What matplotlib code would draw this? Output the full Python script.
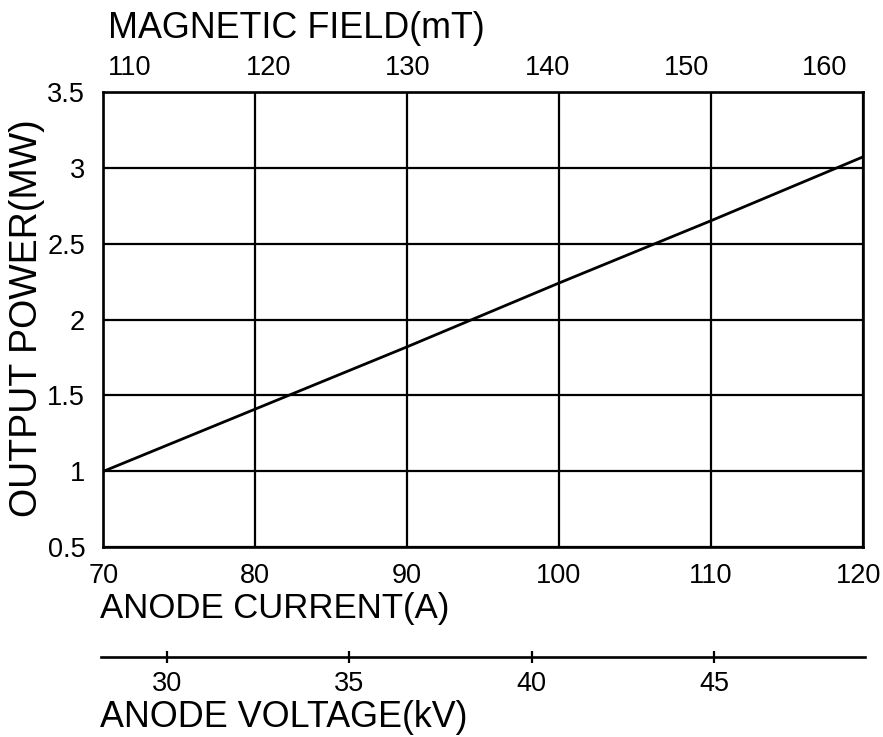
import numpy as np
import matplotlib
matplotlib.use('Agg')
import matplotlib.pyplot as plt
import matplotlib.transforms as mtransforms

plt.rcParams['font.family'] = ['Liberation Sans', 'DejaVu Sans']

# DATOS
corriente = [70, 80, 90, 100, 110, 120]          # A
potencia = [1.00, 1.41, 1.82, 2.24, 2.65, 3.07]  # MW

campo_ticks = [110, 120, 130, 140, 150, 160]     # mT
campo_lim = (108.08, 162.71)
voltaje_ticks = [30, 35, 40, 45]                 # kV
voltaje_lim = (28.19, 49.14)

y_ticks = [0.5, 1, 1.5, 2, 2.5, 3, 3.5]
y_labels = ['0.5', '1', '1.5', '2', '2.5', '3', '3.5']

W, H = 883, 737
fig = plt.figure(figsize=(W/100, H/100), dpi=100)

# eje principal
ax = fig.add_axes([103.3/W, 1-547.3/H, (862.7-103.3)/W, (547.3-91.7)/H])
ax.plot(corriente, potencia, color='black', lw=2.0)
ax.set_xlim(70, 120)
ax.set_ylim(0.5, 3.5)
ax.set_xticks(corriente)
ax.set_yticks(y_ticks)
ax.set_yticklabels(y_labels)
ax.grid(True, color='black', lw=1.6)
for s in ax.spines.values():
    s.set_linewidth(1.9)
ax.tick_params(axis='both', length=0, labelsize=19.5)
ax.tick_params(axis='x', pad=11)
ax.tick_params(axis='y', pad=13)

# el ultimo rotulo (120) queda pegado al borde, se corre un poco
ult = ax.get_xticklabels()[-1]
ult.set_transform(ult.get_transform() +
                  mtransforms.ScaledTranslation(-3/72, 0, fig.dpi_scale_trans))

# eje superior: campo magnetico
axt = ax.twiny()
axt.set_xlim(*campo_lim)
axt.set_xticks(campo_ticks)
axt.tick_params(axis='x', length=0, labelsize=19.5, pad=8)
for s in axt.spines.values():
    s.set_visible(False)

# eje inferior: voltaje
axv = fig.add_axes([100.7/W, 1-656.7/H, (865-100.7)/W, 0.0001])
axv.set_xlim(*voltaje_lim)
axv.set_xticks(voltaje_ticks)
axv.set_yticks([])
for k in ['top', 'left', 'right']:
    axv.spines[k].set_visible(False)
axv.spines['bottom'].set_linewidth(1.9)
axv.tick_params(axis='x', direction='inout', length=9, width=1.6,
                labelsize=19.5, pad=6)
axv.patch.set_visible(False)

# titulos
fig.text(108/W, 1-38/H, 'MAGNETIC FIELD(mT)', fontsize=25.8, va='baseline')
fig.text(100/W, 1-618/H, 'ANODE CURRENT(A)', fontsize=25, va='baseline')
fig.text(100/W, 1-727/H, 'ANODE VOLTAGE(kV)', fontsize=25.8, va='baseline')
fig.text(27/W, 1-318/H, 'OUTPUT POWER(MW)', fontsize=27, rotation=90,
         ha='center', va='center')

fig.savefig('out.png', dpi=100)
